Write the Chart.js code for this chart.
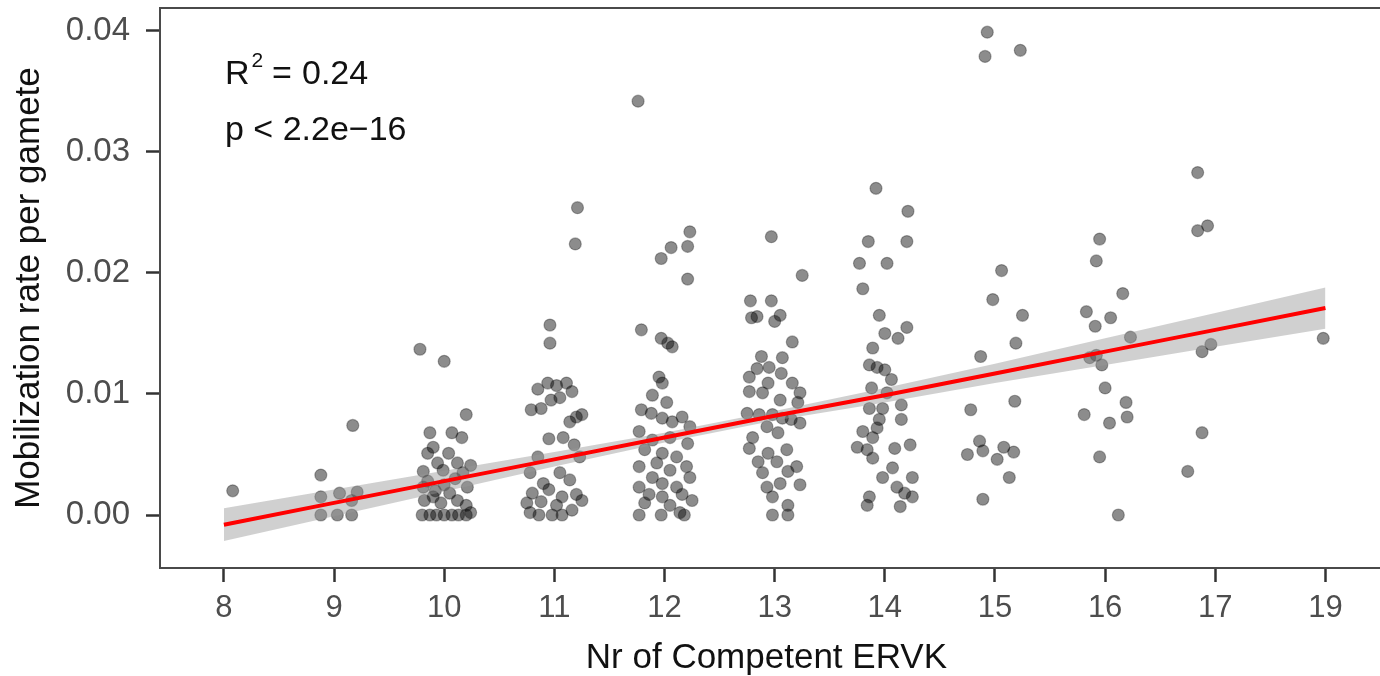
<!DOCTYPE html>
<html lang="en">
<head>
    <meta charset="UTF-8">
    <title>Mobilization rate vs competent ERVK</title>
    <script src="https://cdn.jsdelivr.net/npm/chart.js"></script>
    <style>
        body {
            margin: 0;
            background-color: #ffffff;
        }
        #chart {
            display: block;
        }
    </style>
</head>
<body>
    <canvas id="chart" width="1380" height="676"></canvas>

    <script>
        // x axis categories (number of competent ERVK copies; 18 is absent)
        const categories = ['8', '9', '10', '11', '12', '13', '14', '15', '16', '17', '19'];
        const yTicks = [0, 0.01, 0.02, 0.03, 0.04];

        // mobilization rate per gamete for each animal, grouped by category,
        // with the horizontal jitter (in category units) used when plotting
        const rate8 = [0.0020];
        const jit8 = [0.08];

        const rate9 = [0.0074, 0.0033, 0.0015, 0.0018, 0.0019, 0.0012, 0, 0, 0];
        const jit9 = [0.17, -0.12, -0.12, 0.05, 0.21, 0.16, -0.12, 0.03, 0.16];

        const rate10 = [0.0137, 0.0127, 0.0083, 0.0068, 0.0068, 0.0064, 0.0056, 0.0051, 0.0051, 0.0043,
            0.0043, 0.0041, 0.0036, 0.0037, 0.0023, 0.0023, 0.0028, 0.0025, 0.0030, 0.0035,
            0.0020, 0.0012, 0.0015, 0.0010, 0.0018, 0.0012, 0.0008, 0, 0, 0,
            0, 0, 0, 0, 0.0002];
        const jit10 = [-0.22, 0.00, 0.20, -0.13, 0.07, 0.16, -0.10, -0.15, 0.04, -0.06,
            0.12, 0.24, -0.19, -0.01, 0.21, -0.19, -0.15, 0.00, 0.10, 0.17,
            -0.08, -0.18, -0.10, -0.03, 0.05, 0.12, 0.20, -0.20, -0.13, -0.07,
            0.00, 0.07, 0.13, 0.20, 0.24];

        const rate11 = [0.0254, 0.0224, 0.0157, 0.0142, 0.0104, 0.0109, 0.0107, 0.0109, 0.0102, 0.0087,
            0.0088, 0.0095, 0.0097, 0.0077, 0.0083, 0.0081, 0.0063, 0.0064, 0.0058, 0.0048,
            0.0048, 0.0035, 0.0035, 0.0029, 0.0026, 0.0018, 0.0021, 0.0017, 0.0015, 0.0010,
            0.0011, 0.0008, 0.0012, 0, 0, 0, 0.0002, 0.0004];
        const jit11 = [0.21, 0.19, -0.04, -0.04, -0.15, -0.06, 0.02, 0.11, 0.16, -0.21,
            -0.12, -0.03, 0.05, 0.14, 0.25, 0.20, -0.05, 0.08, 0.18, 0.23,
            -0.15, -0.22, 0.05, 0.14, -0.10, -0.20, -0.05, 0.20, 0.07, -0.25,
            -0.12, 0.02, 0.25, -0.14, -0.02, 0.07, -0.22, 0.16];

        const rate12 = [0.0342, 0.0234, 0.0222, 0.0221, 0.0212, 0.0195, 0.0153, 0.0146, 0.0139, 0.0142,
            0.0114, 0.0109, 0.0099, 0.0093, 0.0087, 0.0084, 0.0080, 0.0077, 0.0081, 0.0073,
            0.0069, 0.0062, 0.0064, 0.0059, 0.0054, 0.0051, 0.0048, 0.0040, 0.0043, 0.0037,
            0.0040, 0.0031, 0.0031, 0.0026, 0.0023, 0.0023, 0.0017, 0.0015, 0.0017, 0.0012,
            0.0010, 0.0008, 0, 0, 0, 0.0002];
        const jit12 = [-0.24, 0.23, 0.21, 0.06, -0.03, 0.21, -0.21, -0.03, 0.07, 0.03,
            -0.05, -0.02, -0.11, 0.02, -0.21, -0.12, -0.02, 0.07, 0.16, 0.23,
            -0.23, -0.11, 0.05, 0.21, -0.18, -0.02, 0.11, -0.23, -0.07, 0.05,
            0.20, -0.11, 0.23, -0.02, -0.23, 0.11, -0.14, -0.02, 0.16, 0.25,
            -0.18, 0.05, -0.23, -0.03, 0.18, 0.14];

        const rate13 = [0.0230, 0.0198, 0.0177, 0.0177, 0.0163, 0.0164, 0.0160, 0.0165, 0.0143, 0.0131,
            0.0130, 0.0114, 0.0121, 0.0122, 0.0117, 0.0109, 0.0109, 0.0102, 0.0101, 0.0101,
            0.0095, 0.0093, 0.0084, 0.0083, 0.0083, 0.0080, 0.0079, 0.0076, 0.0073, 0.0064,
            0.0068, 0.0055, 0.0051, 0.0054, 0.0044, 0.0044, 0.0040, 0.0035, 0.0036, 0.0023,
            0.0026, 0.0025, 0.0015, 0.0008, 0, 0];
        const jit13 = [-0.03, 0.25, -0.22, -0.03, -0.21, -0.16, 0.00, 0.05, 0.16, -0.12,
            0.07, -0.23, -0.16, -0.05, 0.06, 0.16, -0.06, -0.23, -0.11, 0.23,
            0.05, 0.21, -0.25, -0.14, -0.02, 0.07, 0.15, 0.23, -0.07, -0.20,
            0.03, -0.23, -0.06, 0.11, -0.15, 0.02, 0.20, -0.11, 0.12, -0.07,
            0.05, 0.23, -0.02, 0.12, -0.02, 0.12];

        const rate14 = [0.0270, 0.0251, 0.0226, 0.0226, 0.0208, 0.0208, 0.0187, 0.0165, 0.0150, 0.0146,
            0.0155, 0.0138, 0.0124, 0.0122, 0.0120, 0.0112, 0.0105, 0.0101, 0.0088, 0.0088,
            0.0091, 0.0079, 0.0079, 0.0069, 0.0072, 0.0064, 0.0056, 0.0054, 0.0055, 0.0058,
            0.0047, 0.0039, 0.0031, 0.0031, 0.0023, 0.0018, 0.0015, 0.0015, 0.0008, 0.0007];
        const jit14 = [-0.08, 0.21, -0.15, 0.20, -0.23, 0.02, -0.20, -0.05, 0.00, 0.12,
            0.20, -0.11, -0.14, -0.07, 0.00, 0.06, -0.12, 0.02, -0.14, -0.02,
            0.15, 0.15, -0.05, -0.20, -0.07, -0.11, -0.25, -0.16, 0.09, 0.23,
            -0.11, 0.07, -0.02, 0.25, 0.11, 0.18, 0.25, -0.14, -0.16, 0.14];

        const rate15 = [0.0399, 0.0379, 0.0384, 0.0202, 0.0178, 0.0165, 0.0142, 0.0131, 0.0087, 0.0094,
            0.0061, 0.0050, 0.0053, 0.0046, 0.0056, 0.0052, 0.0031, 0.0013];
        const jit15 = [-0.07, -0.09, 0.23, 0.06, -0.02, 0.25, 0.19, -0.13, -0.22, 0.18,
            -0.14, -0.25, -0.11, 0.02, 0.08, 0.17, 0.13, -0.11];

        const rate16 = [0.0228, 0.0210, 0.0183, 0.0168, 0.0163, 0.0156, 0.0147, 0.0130, 0.0132, 0.0124,
            0.0105, 0.0093, 0.0081, 0.0083, 0.0076, 0.0048, 0];
        const jit16 = [-0.05, -0.08, 0.16, -0.17, 0.05, -0.09, 0.23, -0.14, -0.08, -0.03,
            0.00, 0.19, 0.20, -0.19, 0.04, -0.05, 0.12];

        const rate17 = [0.0283, 0.0235, 0.0239, 0.0135, 0.0141, 0.0068, 0.0036];
        const jit17 = [-0.16, -0.16, -0.07, -0.12, -0.04, -0.12, -0.25];

        const rate19 = [0.0146];
        const jit19 = [-0.02];

        // linear fit and its 95% confidence band at each category position
        const fitLine = [-0.0008, 0.0010, 0.0028, 0.0046, 0.0064, 0.0082, 0.0099, 0.0117, 0.0135, 0.0153, 0.0171];
        const bandLow = [-0.00215, -0.0001, 0.00195, 0.0040, 0.0060, 0.0078, 0.0093, 0.0109, 0.0124, 0.0139, 0.0154];
        const bandHigh = [0.00055, 0.0021, 0.00365, 0.0052, 0.0068, 0.0086, 0.0105, 0.0125, 0.0146, 0.0167, 0.0188];

        const groups = [
            [rate8, jit8], [rate9, jit9], [rate10, jit10], [rate11, jit11], [rate12, jit12],
            [rate13, jit13], [rate14, jit14], [rate15, jit15], [rate16, jit16], [rate17, jit17],
            [rate19, jit19]
        ];

        const points = [];
        groups.forEach(([rates, jitter], i) => {
            rates.forEach((r, k) => points.push({ x: i + jitter[k], y: r }));
        });

        const asLine = arr => arr.map((v, i) => ({ x: i, y: v }));

        const fontFamily = "'Liberation Sans', Arial, Helvetica, sans-serif";

        // panel border + R^2 / p-value annotation
        const panelDecor = {
            id: 'panelDecor',
            afterDraw(chart) {
                const { ctx, chartArea } = chart;
                ctx.save();
                ctx.strokeStyle = '#4a4a4a';
                ctx.lineWidth = 2;
                ctx.strokeRect(chartArea.left, chartArea.top, chartArea.right - chartArea.left + 20, chartArea.bottom - chartArea.top);

                ctx.fillStyle = '#111111';
                ctx.textBaseline = 'alphabetic';
                ctx.textAlign = 'left';
                ctx.font = `34px ${fontFamily}`;
                ctx.fillText('R', 225, 84);
                const rw = ctx.measureText('R').width;
                ctx.font = `21px ${fontFamily}`;
                ctx.fillText('2', 225 + rw + 2, 67);
                ctx.font = `34px ${fontFamily}`;
                ctx.fillText('=', 272, 84);
                ctx.fillText('0.24', 302, 84);
                ctx.fillText('p < 2.2e\u221216', 225, 140);
                ctx.restore();
            }
        };

        new Chart(document.getElementById('chart'), {
            type: 'scatter',
            data: {
                datasets: [
                    {
                        label: 'fit',
                        data: asLine(fitLine),
                        showLine: true,
                        borderColor: '#ff0000',
                        borderWidth: 4,
                        pointRadius: 0,
                        order: 1
                    },
                    {
                        label: 'upper',
                        data: asLine(bandHigh),
                        showLine: true,
                        borderWidth: 0,
                        borderColor: 'rgba(0,0,0,0)',
                        backgroundColor: 'rgba(150,150,150,0.45)',
                        pointRadius: 0,
                        fill: '+1',
                        order: 2
                    },
                    {
                        label: 'lower',
                        data: asLine(bandLow),
                        showLine: true,
                        borderWidth: 0,
                        borderColor: 'rgba(0,0,0,0)',
                        pointRadius: 0,
                        fill: false,
                        order: 2
                    },
                    {
                        label: 'animals',
                        data: points,
                        pointRadius: 6,
                        pointBackgroundColor: 'rgba(0,0,0,0.45)',
                        pointBorderColor: 'rgba(0,0,0,0.3)',
                        pointBorderWidth: 1.2,
                        order: 3
                    }
                ]
            },
            options: {
                responsive: false,
                animation: false,
                devicePixelRatio: 1,
                layout: { padding: { top: 8, right: 0, bottom: 0, left: 0 } },
                plugins: {
                    legend: { display: false },
                    tooltip: { enabled: false }
                },
                scales: {
                    x: {
                        type: 'linear',
                        min: -0.58,
                        max: 10.43,
                        afterBuildTicks: scale => {
                            scale.ticks = categories.map((c, i) => ({ value: i }));
                        },
                        afterFit: scale => {
                            scale.height = 108;
                            scale.paddingLeft = 0;
                            scale.paddingRight = 0;
                        },
                        ticks: {
                            callback: v => categories[v],
                            autoSkip: false,
                            maxRotation: 0,
                            padding: 8,
                            color: '#4d4d4d',
                            font: { family: fontFamily, size: 31 }
                        },
                        grid: {
                            drawOnChartArea: false,
                            drawTicks: true,
                            tickLength: 14,
                            tickWidth: 2.5,
                            tickColor: '#333333'
                        },
                        border: { display: false },
                        title: {
                            display: true,
                            text: 'Nr of Competent ERVK',
                            color: '#111111',
                            font: { family: fontFamily, size: 35, lineHeight: 1 },
                            padding: { top: 0, bottom: 0 }
                        }
                    },
                    y: {
                        min: -0.00438,
                        max: 0.0419,
                        afterBuildTicks: scale => {
                            scale.ticks = yTicks.map(v => ({ value: v }));
                        },
                        afterFit: scale => {
                            scale.width = 160;
                            scale.paddingTop = 0;
                            scale.paddingBottom = 0;
                        },
                        ticks: {
                            callback: v => v.toFixed(2),
                            padding: 16,
                            color: '#4d4d4d',
                            font: { family: fontFamily, size: 33 }
                        },
                        grid: {
                            drawOnChartArea: false,
                            drawTicks: true,
                            tickLength: 14,
                            tickWidth: 2.5,
                            tickColor: '#333333'
                        },
                        border: { display: false },
                        title: {
                            display: true,
                            text: 'Mobilization rate per gamete',
                            color: '#111111',
                            font: { family: fontFamily, size: 35, lineHeight: 1 },
                            padding: { top: 12, bottom: 0 }
                        }
                    }
                }
            },
            plugins: [panelDecor]
        });
    </script>
</body>
</html>
